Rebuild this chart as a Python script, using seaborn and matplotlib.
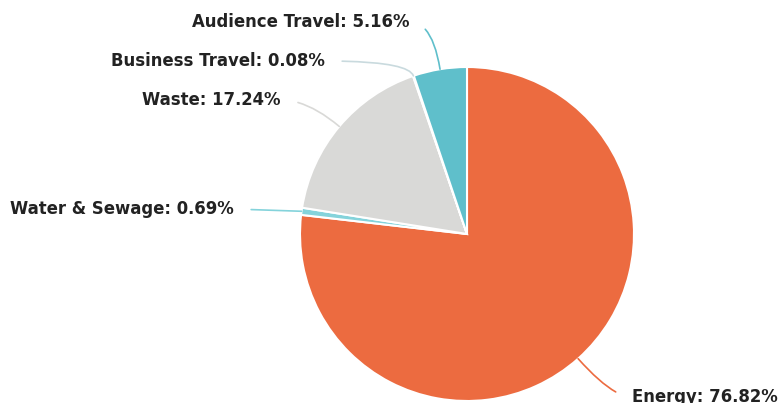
import matplotlib.pyplot as plt
import numpy as np
import seaborn as sns

# emissions share by source (percent)
categories = ["Energy", "Water & Sewage", "Waste", "Business Travel", "Audience Travel"]
shares = [76.82, 0.69, 17.24, 0.08, 5.16]
colors = ["#ec6b40", "#84d3db", "#d9d9d7", "#c9dade", "#5fbfcb"]

# label anchors in figure pixels (x, y from top), alignment
label_pos = {
    "Energy": (632, 397, "left"),
    "Water & Sewage": (234, 209, "right"),
    "Waste": (281, 100, "right"),
    "Business Travel": (325, 61, "right"),
    "Audience Travel": (410, 22, "right"),
}

W, H = 778, 403
sns.set_theme(style="white")
plt.rcParams['font.family'] = ['DejaVu Sans']

fig = plt.figure(figsize=(W / 100, H / 100), dpi=100)
cx, cy, r = 467, 234, 167
ax = fig.add_axes([(cx - r) / W, (H - cy - r) / H, 2 * r / W, 2 * r / H])

wedges, _ = ax.pie(shares, colors=colors, startangle=90, counterclock=False,
                   radius=1.0, wedgeprops=dict(edgecolor="white", linewidth=1.5))
ax.set_xlim(-1, 1)
ax.set_ylim(-1, 1)
ax.set_aspect("equal")
ax.axis("off")

for w, name, val, col in zip(wedges, categories, shares, colors):
    mid = np.deg2rad((w.theta1 + w.theta2) / 2)
    pt = (np.cos(mid), np.sin(mid))
    tx, ty, ha = label_pos[name]
    deg = np.rad2deg(mid) % 180
    if deg < 25 or deg > 155:
        conn = "arc3,rad=0"
    else:
        conn = f"angle3,angleA=0,angleB={np.rad2deg(mid):.1f}"
    rel = (1, 0.5) if ha == "right" else (0, 0.5)
    ax.annotate(f"{name}: {val:.2f}%", xy=pt, xycoords="data",
                xytext=(tx, H - ty), textcoords="figure pixels",
                ha=ha, va="center", fontsize=11.9, fontweight="bold",
                color="#222222", annotation_clip=False,
                arrowprops=dict(arrowstyle="-", color=col, lw=1.2, relpos=rel,
                                shrinkA=10, shrinkB=0, connectionstyle=conn))

fig.savefig("out.png", dpi=100)
